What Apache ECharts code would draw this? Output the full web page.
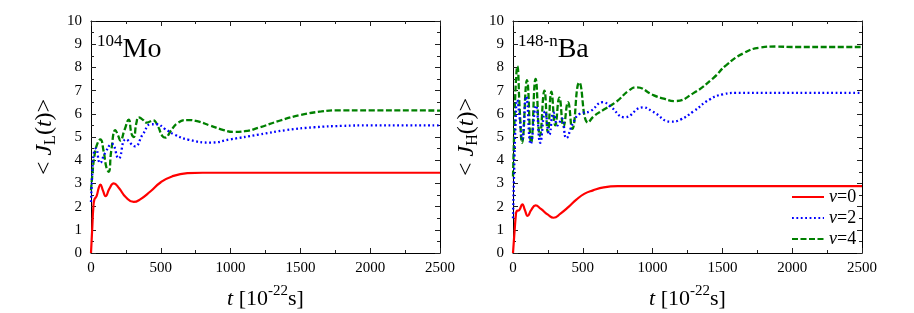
<!DOCTYPE html>
<html>
<head>
<meta charset="utf-8">
<script src="https://cdn.jsdelivr.net/npm/echarts@6.0.0/dist/echarts.min.js"></script>
<style>
html,body{margin:0;padding:0;background:#fff;}
#chart{width:914px;height:313px;}
</style>
</head>
<body>
<div id="chart"></div>
<script>
// ---- Data: 104Mo (left panel, <J_L(t)>) ----
const MO_T_NU0 = [0,5,10,16,24,40,55,67,85,105,130,163,200,250,306,350,425,500,580,690,800,1000,1500,2000,2500];
const MO_V_NU0 = [0,0.6,1.2,1.9,2.3,2.45,2.8,2.95,2.7,2.45,2.75,3.0,2.8,2.4,2.2,2.3,2.65,3.05,3.3,3.44,3.46,3.46,3.46,3.46,3.46];

const MO_T_NU2 = [0,8,20,35,65,100,150,198,250,315,370,430,470,530,600,700,860,1000,1200,1400,1600,1800,2000,2500];
const MO_V_NU2 = [2.2,3.3,4.3,4.5,3.88,4.3,4.7,4.08,4.9,4.6,5.1,5.55,5.55,5.35,5.1,4.88,4.76,4.9,5.1,5.3,5.42,5.48,5.5,5.5];

const MO_T_NU4 = [0,10,25,45,67,90,110,127,145,175,195,210,240,270,290,306,325,342,370,400,445,480,510,533,570,620,690,760,850,950,1023,1100,1200,1350,1500,1650,1750,2000,2500];
const MO_V_NU4 = [2.7,3.4,4.2,4.7,4.9,4.4,3.7,3.5,4.4,5.3,5.05,4.85,5.3,5.75,5.15,5.0,5.6,5.85,5.75,5.62,5.72,5.45,5.05,4.97,5.25,5.6,5.73,5.68,5.5,5.3,5.22,5.25,5.4,5.7,5.95,6.1,6.15,6.15,6.14];

// ---- Data: 148-n Ba (right panel, <J_H(t)>) ----
const BA_T_NU0 = [0,6,12,20,26,45,67,85,105,130,162,200,250,291,340,400,454,510,573,650,750,900,2500];
const BA_V_NU0 = [0,0.5,1.0,1.6,1.8,1.85,2.1,1.85,1.6,1.85,2.05,1.9,1.65,1.52,1.7,2.0,2.3,2.55,2.7,2.83,2.88,2.88,2.88];

const BA_T_NU2 = [0,8,18,30,48,65,95,127,165,195,230,260,290,320,350,382,430,478,550,645,700,800,931,1000,1134,1200,1290,1409,1504,1600,2500];
const BA_V_NU2 = [1.5,3.5,5.5,6.6,5.8,4.9,6.75,4.7,6.35,4.75,6.1,5.1,6.05,5.5,5.8,4.95,5.6,6.0,6.1,6.5,6.3,5.85,6.28,6.1,5.66,5.75,6.09,6.62,6.84,6.9,6.9];

const BA_T_NU4 = [0,10,20,31,48,65,100,130,162,193,225,250,275,303,332,362,394,425,475,537,580,645,740,830,884,1003,1080,1160,1290,1433,1528,1648,1767,1887,2000,2500];
const BA_V_NU4 = [3.3,5.5,7.3,8.05,6.2,4.75,7.45,4.75,7.5,5.05,7.0,5.2,6.95,5.5,6.7,5.45,6.5,5.35,7.35,5.62,5.9,6.16,6.52,7.0,7.14,6.81,6.65,6.55,6.88,7.53,8.1,8.6,8.85,8.9,8.88,8.88];

const SERIES_NAMES = ['ν=0','ν=2','ν=4'];
const X_MIN = 0, X_MAX = 2500, X_INTERVAL = 500;
const Y_MIN = 0, Y_MAX = 10, Y_INTERVAL = 1;

const FONT = 'Liberation Serif';
const COLORS = ['#ff0000','#0000ff','#008000'];
const LINE_STYLES = [
  {width: 2.2, type: 'solid'},
  {width: 2.3, type: [1.8, 2.6]},
  {width: 2.3, type: [6, 2.5]}
];

function pairs(t, v){ return t.map((x,i)=>[x, v[i]]); }

function xAxes(grid){
  const base = {
    gridIndex: grid, type: 'value', min: X_MIN, max: X_MAX, interval: X_INTERVAL,
    axisLine: {onZero: false, lineStyle: {color: '#000', width: 1}},
    axisTick: {inside: true, length: 5, lineStyle: {color: '#222'}},
    minorTick: {show: true, splitNumber: 2, length: 3, lineStyle: {color: '#222'}},
    splitLine: {show: false}
  };
  return [
    Object.assign({}, base, {
      position: 'bottom',
      axisLabel: {fontFamily: FONT, fontSize: 15, color: '#000', margin: 8,
                  formatter: function(v){ return String(v); }},
      name: '{i|t} [10{sup|-22}s]',
      nameLocation: 'middle', nameGap: 31,
      nameTextStyle: {
        fontFamily: FONT, fontSize: 22, color: '#000', lineHeight: 30,
        rich: {
          i: {fontFamily: FONT, fontSize: 22, fontStyle: 'italic', color: '#000', lineHeight: 30},
          sup: {fontFamily: FONT, fontSize: 15, color: '#000', verticalAlign: 'top', lineHeight: 15}
        }
      }
    }),
    Object.assign({}, base, {position: 'top', axisLabel: {show: false}})
  ];
}

function yAxes(grid, sub){
  const base = {
    gridIndex: grid, type: 'value', min: Y_MIN, max: Y_MAX, interval: Y_INTERVAL,
    axisLine: {onZero: false, lineStyle: {color: '#000', width: 1}},
    axisTick: {inside: true, length: 5, lineStyle: {color: '#222'}},
    minorTick: {show: true, splitNumber: 2, length: 3, lineStyle: {color: '#222'}},
    splitLine: {show: false}
  };
  return [
    Object.assign({}, base, {
      position: 'left',
      axisLabel: {fontFamily: FONT, fontSize: 15, color: '#000', margin: 9},
      name: '< {i|J}{sub|' + sub + '}({i|t})>',
      nameLocation: 'middle', nameGap: 32, nameRotate: 90,
      nameTextStyle: {
        fontFamily: FONT, fontSize: 24, color: '#000', lineHeight: 28,
        rich: {
          i: {fontFamily: FONT, fontSize: 24, fontStyle: 'italic', color: '#000', lineHeight: 28},
          sub: {fontFamily: FONT, fontSize: 16, color: '#000', verticalAlign: 'bottom', lineHeight: 16}
        }
      }
    }),
    Object.assign({}, base, {position: 'right', axisLabel: {show: false}})
  ];
}

function mkSeries(name, idx, t, v, xi, yi){
  return {
    name: name, type: 'line', xAxisIndex: xi, yAxisIndex: yi,
    data: pairs(t, v), symbol: 'none', showSymbol: false,
    smooth: 0.5,
    color: COLORS[idx],
    lineStyle: Object.assign({color: COLORS[idx]}, LINE_STYLES[idx]),
    z: 3 + (2 - idx)
  };
}

const chart = echarts.init(document.getElementById('chart'), null, {renderer: 'canvas'});
chart.setOption({
  animation: false,
  backgroundColor: '#fff',
  grid: [
    {left: 91, top: 21, width: 349, height: 232, outerBoundsMode: 'none', containLabel: false},
    {left: 513, top: 21, width: 349, height: 232, outerBoundsMode: 'none', containLabel: false}
  ],
  xAxis: xAxes(0).concat(xAxes(1)),
  yAxis: yAxes(0, 'L').concat(yAxes(1, 'H')),
  legend: {
    data: SERIES_NAMES,
    orient: 'vertical', left: 786, top: 183,
    itemWidth: 32, itemHeight: 12, itemGap: 3,
    itemStyle: {opacity: 0},
    formatter: function(n){ return '{i|ν}' + n.slice(1); },
    textStyle: {
      fontFamily: FONT, fontSize: 18, color: '#000', lineHeight: 18,
      rich: {i: {fontFamily: FONT, fontSize: 18, fontStyle: 'italic', color: '#000', lineHeight: 18}}
    }
  },
  graphic: [
    {type: 'text', left: 97, top: 33, style: {
      text: '{s|104}{m|Mo}', fill: '#000',
      rich: {
        s: {fontFamily: FONT, fontSize: 17, verticalAlign: 'top', lineHeight: 16, fill: '#000'},
        m: {fontFamily: FONT, fontSize: 28, lineHeight: 34, fill: '#000'}
      }
    }},
    {type: 'text', left: 518, top: 33, style: {
      text: '{s|148-n}{m|Ba}', fill: '#000',
      rich: {
        s: {fontFamily: FONT, fontSize: 17, verticalAlign: 'top', lineHeight: 16, fill: '#000'},
        m: {fontFamily: FONT, fontSize: 28, lineHeight: 34, fill: '#000'}
      }
    }}
  ],
  series: [
    mkSeries(SERIES_NAMES[0], 0, MO_T_NU0, MO_V_NU0, 0, 0),
    mkSeries(SERIES_NAMES[1], 1, MO_T_NU2, MO_V_NU2, 0, 0),
    mkSeries(SERIES_NAMES[2], 2, MO_T_NU4, MO_V_NU4, 0, 0),
    mkSeries(SERIES_NAMES[0], 0, BA_T_NU0, BA_V_NU0, 2, 2),
    mkSeries(SERIES_NAMES[1], 1, BA_T_NU2, BA_V_NU2, 2, 2),
    mkSeries(SERIES_NAMES[2], 2, BA_T_NU4, BA_V_NU4, 2, 2)
  ]
});
</script>
</body>
</html>
